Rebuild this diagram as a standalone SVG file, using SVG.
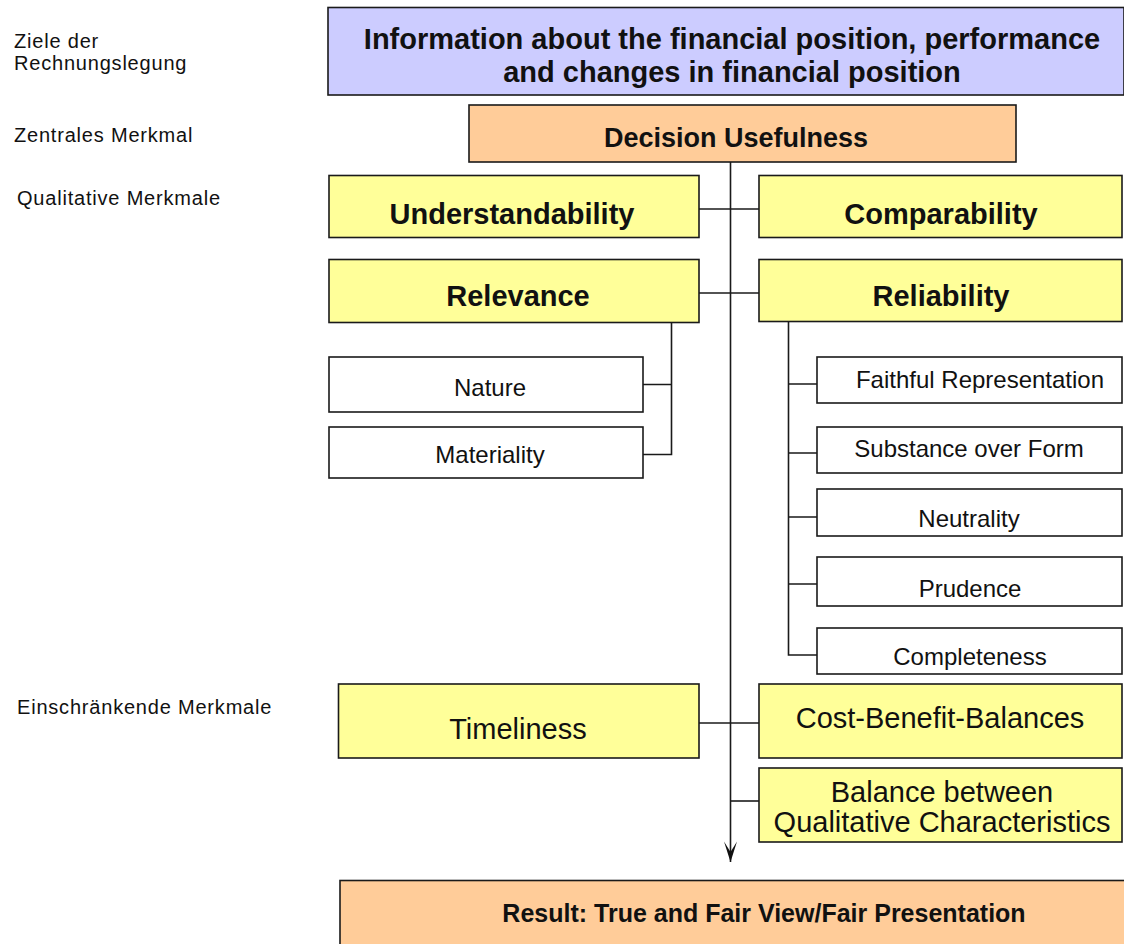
<svg xmlns="http://www.w3.org/2000/svg" width="1124" height="944" viewBox="0 0 1124 944">
  <style>
    .box { stroke: #1a1a1a; stroke-width: 1.6; }
    .goal { fill: #ccccff; }
    .core { fill: #ffcc99; }
    .qual { fill: #ffff99; }
    .sub { fill: #ffffff; }
    .link { fill: none; stroke: #1a1a1a; stroke-width: 1.6; }
    text { font-family: "Liberation Sans", Arial, sans-serif; fill: #111; text-anchor: middle; }
    .bold { font-weight: bold; font-size: 29px; }
    .reg { font-size: 24px; }
    .big { font-size: 29px; }
    .side { font-size: 20px; text-anchor: start; letter-spacing: 0.8px; }
  </style>
  <defs>
    <!-- barbed arrowhead pointing along +x -->
    <marker id="arrow" viewBox="0 0 22 14" refX="21" refY="7" markerWidth="22" markerHeight="14" markerUnits="userSpaceOnUse" orient="auto">
      <path d="M21 7 L0.5 0.5 L11 7 L0.5 13.5 Z" fill="#111"/>
    </marker>
  </defs>

  <!-- row labels -->
  <g id="labels">
    <text class="side" x="14" y="48">Ziele der</text>
    <text class="side" x="14" y="70">Rechnungslegung</text>
    <text class="side" x="14" y="142">Zentrales Merkmal</text>
    <text class="side" x="17" y="205">Qualitative Merkmale</text>
    <text class="side" x="17" y="714">Einschränkende Merkmale</text>
  </g>

  <!-- connectors -->
  <g id="connectors">
    <path class="link" d="M730.5 162 V862" marker-end="url(#arrow)"/>
    <path class="link" d="M699 209 H759"/>
    <path class="link" d="M699 293 H759"/>
    <path class="link" d="M671.5 322 V454.5 H643 M671.5 384.5 H643"/>
    <path class="link" d="M788.5 322 V655 H817 M788.5 384 H817 M788.5 453 H817 M788.5 517 H817 M788.5 584 H817"/>
    <path class="link" d="M699 723 H759"/>
    <path class="link" d="M730.5 801 H759"/>
  </g>

  <g id="goal">
    <rect class="box goal" x="328" y="7.5" width="796" height="87.5"/>
    <text class="bold" x="732" y="49">Information about the financial position, performance</text>
    <text class="bold" x="732" y="82">and changes in financial position</text>
  </g>

  <g id="decision-usefulness">
    <rect class="box core" x="469" y="105" width="547" height="57"/>
    <text class="bold" x="736" y="147" style="font-size:27px">Decision Usefulness</text>
  </g>

  <g id="understandability">
    <rect class="box qual" x="329" y="175.5" width="370" height="62"/>
    <text class="bold" x="512" y="224">Understandability</text>
  </g>

  <g id="comparability">
    <rect class="box qual" x="759" y="175.5" width="363" height="62"/>
    <text class="bold" x="941" y="224">Comparability</text>
  </g>

  <g id="relevance">
    <rect class="box qual" x="329" y="259.5" width="370" height="63"/>
    <text class="bold" x="518" y="306">Relevance</text>
  </g>

  <g id="reliability">
    <rect class="box qual" x="759" y="259.5" width="363" height="62"/>
    <text class="bold" x="941" y="306">Reliability</text>
  </g>

  <g id="nature">
    <rect class="box sub" x="329" y="357" width="314" height="55"/>
    <text class="reg" x="490" y="396">Nature</text>
  </g>

  <g id="materiality">
    <rect class="box sub" x="329" y="427" width="314" height="51"/>
    <text class="reg" x="490" y="463">Materiality</text>
  </g>

  <g id="faithful-representation">
    <rect class="box sub" x="817" y="357" width="305" height="46"/>
    <text class="reg" x="980" y="388">Faithful Representation</text>
  </g>

  <g id="substance-over-form">
    <rect class="box sub" x="817" y="427" width="305" height="46"/>
    <text class="reg" x="969" y="457">Substance over Form</text>
  </g>

  <g id="neutrality">
    <rect class="box sub" x="817" y="489" width="305" height="47"/>
    <text class="reg" x="969" y="527">Neutrality</text>
  </g>

  <g id="prudence">
    <rect class="box sub" x="817" y="557" width="305" height="49"/>
    <text class="reg" x="970" y="597">Prudence</text>
  </g>

  <g id="completeness">
    <rect class="box sub" x="817" y="628" width="305" height="46"/>
    <text class="reg" x="970" y="665">Completeness</text>
  </g>

  <g id="timeliness">
    <rect class="box qual" x="338.5" y="684" width="360.5" height="74"/>
    <text class="big" x="518" y="739">Timeliness</text>
  </g>

  <g id="cost-benefit-balances">
    <rect class="box qual" x="759" y="684" width="363" height="74"/>
    <text class="big" x="940" y="728">Cost-Benefit-Balances</text>
  </g>

  <g id="balance-between">
    <rect class="box qual" x="759" y="768" width="363" height="74"/>
    <text class="big" x="942" y="802">Balance between</text>
    <text class="big" x="942" y="832">Qualitative Characteristics</text>
  </g>

  <g id="result">
    <rect class="box core" x="340" y="880.5" width="790" height="70"/>
    <text class="bold" x="764" y="922" style="font-size:25px">Result: True and Fair View/Fair Presentation</text>
  </g>
</svg>
